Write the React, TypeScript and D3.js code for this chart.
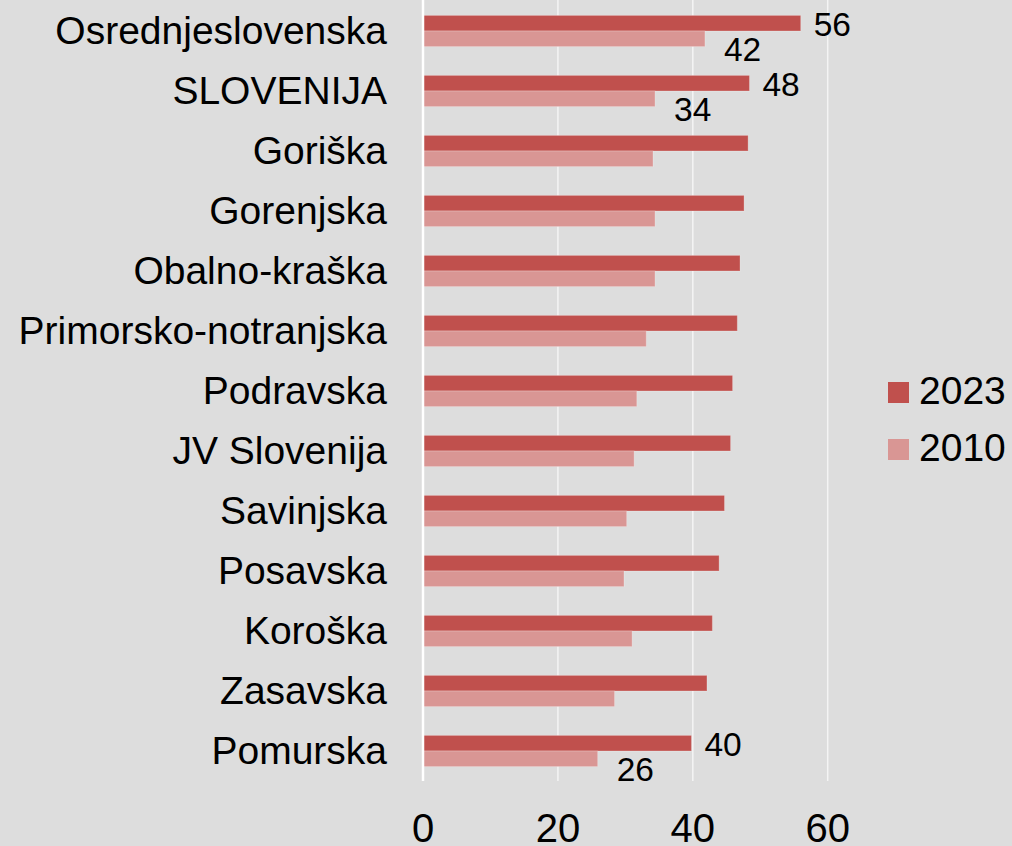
import React, { useEffect, useRef } from 'react';
import * as d3 from 'd3';

const regions = [
  'Osrednjeslovenska', 'SLOVENIJA', 'Goriška', 'Gorenjska', 'Obalno-kraška',
  'Primorsko-notranjska', 'Podravska', 'JV Slovenija', 'Savinjska', 'Posavska',
  'Koroška', 'Zasavska', 'Pomurska',
];
const values2023 = [56, 48.4, 48.2, 47.6, 47.0, 46.6, 45.9, 45.6, 44.7, 43.9, 42.9, 42.1, 39.8];
const values2010 = [41.8, 34.4, 34.1, 34.4, 34.4, 33.1, 31.7, 31.3, 30.2, 29.8, 31.0, 28.4, 25.9];
const labelled = ['Osrednjeslovenska', 'SLOVENIJA', 'Pomurska'];
const years = ['2023', '2010'];
const xTicks = [0, 20, 40, 60];

export default function App() {
  const ref = useRef<SVGSVGElement>(null);

  useEffect(() => {
    document.body.style.margin = '0';
    const width = 1012, height = 846;
    const svg = d3.select(ref.current);
    svg.selectAll('*').remove();
    const font = '"Liberation Sans", Arial, sans-serif';

    svg.append('rect').attr('width', width).attr('height', height).attr('fill', '#dddddd');

    const x = d3.scaleLinear().domain([0, 60]).range([423, 827.7]);
    const y = d3.scaleBand().domain(regions).range([1, 781]).paddingInner(0.48).paddingOuter(0.24);
    const sub = d3.scaleBand().domain(years).range([0, y.bandwidth()]);
    const color = d3.scaleOrdinal<string>().domain(years).range(['#c0504d', '#d99694']);

    // gridlines
    svg.selectAll('line.grid')
      .data(xTicks.slice(1))
      .enter()
      .append('line')
      .attr('x1', d => x(d)).attr('x2', d => x(d))
      .attr('y1', 0).attr('y2', 781)
      .attr('stroke', '#f4f4f4')
      .attr('stroke-width', 1.5);

    const rows = regions.map((r, i) => ({ r, v: { '2023': values2023[i], '2010': values2010[i] } as Record<string, number> }));

    const g = svg.selectAll('g.row')
      .data(rows)
      .enter()
      .append('g')
      .attr('transform', d => 'translate(0,' + y(d.r) + ')');

    years.forEach(yr => {
      g.append('rect')
        .attr('x', x(0))
        .attr('y', sub(yr)!)
        .attr('width', d => x(d.v[yr]) - x(0))
        .attr('height', sub.bandwidth())
        .attr('fill', color(yr))
        .attr('stroke', '#ffffff')
        .attr('stroke-opacity', 0.25)
        .attr('stroke-width', 1);
    });

    // zero axis line
    svg.append('line')
      .attr('x1', x(0)).attr('x2', x(0))
      .attr('y1', 0).attr('y2', 781)
      .attr('stroke', '#ffffff')
      .attr('stroke-width', 2.5);

    // category labels
    svg.selectAll('text.cat')
      .data(regions)
      .enter()
      .append('text')
      .attr('x', 387)
      .attr('y', d => y(d)! + y.bandwidth() / 2 + 13)
      .attr('text-anchor', 'end')
      .attr('font-family', font)
      .attr('font-size', 39)
      .attr('fill', '#000')
      .text(d => d);

    // value labels
    const lab = rows.filter(d => labelled.includes(d.r));
    svg.selectAll('text.v23')
      .data(lab)
      .enter()
      .append('text')
      .attr('x', d => x(d.v['2023']) + 13)
      .attr('y', d => y(d.r)! + sub('2023')! + sub.bandwidth() / 2 + 12.5)
      .attr('font-family', font)
      .attr('font-size', 33.5)
      .text(d => d3.format('.0f')(d.v['2023']));
    svg.selectAll('text.v10')
      .data(lab)
      .enter()
      .append('text')
      .attr('x', d => x(d.v['2010']) + 19)
      .attr('y', d => y(d.r)! + sub('2010')! + sub.bandwidth() / 2 + 22)
      .attr('font-family', font)
      .attr('font-size', 33.5)
      .text(d => d3.format('.0f')(d.v['2010']));

    // x tick labels
    svg.selectAll('text.tick')
      .data(xTicks)
      .enter()
      .append('text')
      .attr('x', d => x(d))
      .attr('y', 842)
      .attr('text-anchor', 'middle')
      .attr('font-family', font)
      .attr('font-size', 40)
      .text(d => d);

    // legend
    const leg = svg.selectAll('g.leg')
      .data(years)
      .enter()
      .append('g')
      .attr('transform', (d, i) => 'translate(888,' + (382 + i * 57) + ')');
    leg.append('rect').attr('width', 21).attr('height', 21).attr('fill', d => color(d));
    leg.append('text')
      .attr('x', 31)
      .attr('y', 22)
      .attr('font-family', font)
      .attr('font-size', 39)
      .text(d => d);
  }, []);

  return <svg ref={ref} width={1012} height={846} style={{ display: 'block' }} />;
}
